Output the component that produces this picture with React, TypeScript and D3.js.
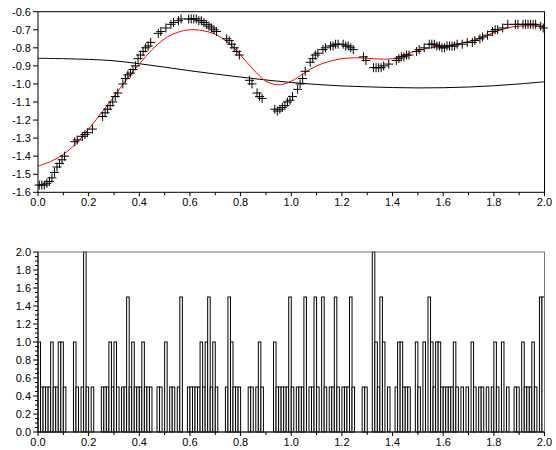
import React from 'react';
import * as d3 from 'd3';

// ---------- data ----------
// histogram densities for 200 bins of width 0.01 over [0, 2]
const histDensity = [
  1, 0.5, 0.5, 0.5, 0.5, 1, 0.5, 0.5, 1, 1,
  0.5, 0, 0, 0, 1, 0.5, 0, 0.5, 2, 0.5,
  0, 0.5, 0, 0, 0, 0.5, 0.5, 0.5, 1, 0.5,
  1, 0.5, 0, 0.5, 0.5, 1.5, 0.5, 1, 0.5, 0.5,
  0.5, 1, 0.5, 0.5, 0.5, 0, 0, 0.5, 0.5, 0,
  1, 0, 0.5, 0.5, 0, 0.5, 1.5, 0, 0, 0.5,
  0.5, 0.5, 0.5, 0.5, 1, 0.5, 1, 1.5, 0.5, 1,
  0.5, 0, 0, 0, 0.5, 1.5, 1, 0.5, 0.5, 0.5,
  0, 0, 0, 0.5, 0.5, 0, 0.5, 1, 0.5, 0,
  0, 0, 0, 1, 0.5, 0.5, 0.5, 0.5, 0.5, 1.5,
  0.5, 0, 0.5, 0.5, 0.5, 1.5, 0, 0.5, 0.5, 1.5,
  0.5, 0, 1.5, 0.5, 0, 0.5, 0.5, 1.5, 0.5, 0,
  0.5, 0.5, 0.5, 1.5, 0.5, 0, 0, 0, 0.5, 0.5,
  0, 0, 2, 1, 0.5, 1.5, 1, 0, 0.5, 0,
  0, 0.5, 1, 1, 0.5, 0.5, 0.5, 0, 0, 1,
  0.5, 0, 1, 0, 1.5, 1, 0.5, 1, 1, 0.5,
  0.5, 0.5, 0.5, 0.5, 1, 0.5, 0, 0.5, 0, 0.5,
  0, 1, 0.5, 0, 0.5, 0.5, 0, 0.5, 0, 0.5,
  1, 0.5, 0, 1, 0, 0.5, 0, 0, 0.5, 0.5,
  0, 1, 0.5, 0.5, 0.5, 1, 0.5, 0, 1.5, 1.5,
];

const pointsX = [
  0.005, 0.015, 0.025, 0.035, 0.045, 0.055, 0.065, 0.075, 0.085, 0.095, 0.105,
  0.145, 0.155, 0.175, 0.185, 0.195, 0.215,
  0.255, 0.265, 0.275, 0.285, 0.295, 0.305, 0.315, 0.335, 0.345, 0.355, 0.365, 0.375, 0.385, 0.395,
  0.405, 0.415, 0.425, 0.435, 0.445, 0.475, 0.485, 0.505, 0.525, 0.535, 0.555, 0.565,
  0.595, 0.605, 0.615, 0.625, 0.635, 0.645, 0.655, 0.665, 0.675, 0.685, 0.695, 0.705,
  0.745, 0.755, 0.765, 0.775, 0.785, 0.795, 0.835, 0.845, 0.865, 0.875, 0.885,
  0.935, 0.945, 0.955, 0.965, 0.975, 0.985, 0.995, 1.005, 1.025, 1.035, 1.045, 1.055,
  1.075, 1.085, 1.095, 1.105, 1.125, 1.135, 1.155, 1.165, 1.175, 1.185,
  1.205, 1.215, 1.225, 1.235, 1.245, 1.285, 1.295, 1.325, 1.335, 1.345, 1.355, 1.365, 1.385,
  1.415, 1.425, 1.435, 1.445, 1.455, 1.465, 1.495, 1.505, 1.525, 1.545, 1.555, 1.565, 1.575, 1.585, 1.595,
  1.605, 1.615, 1.625, 1.635, 1.645, 1.655, 1.675, 1.695, 1.715, 1.725, 1.745, 1.755, 1.775, 1.795,
  1.805, 1.815, 1.835, 1.855, 1.885, 1.895, 1.915, 1.925, 1.935, 1.945, 1.955, 1.965, 1.985, 1.995,
];
const pointsY = [
  -1.56, -1.56, -1.56, -1.55, -1.54, -1.52, -1.49, -1.46, -1.44, -1.42, -1.40,
  -1.32, -1.31, -1.29, -1.28, -1.27, -1.25,
  -1.18, -1.16, -1.14, -1.12, -1.10, -1.07, -1.05, -1.00, -0.97, -0.95, -0.94, -0.92, -0.90, -0.86,
  -0.84, -0.82, -0.80, -0.79, -0.77, -0.72, -0.71, -0.69, -0.67, -0.66, -0.65, -0.64,
  -0.64, -0.64, -0.64, -0.64, -0.65, -0.65, -0.66, -0.67, -0.68, -0.69, -0.70, -0.71,
  -0.75, -0.76, -0.78, -0.80, -0.82, -0.84, -0.98, -1.00, -1.05, -1.07, -1.08,
  -1.14, -1.15, -1.14, -1.13, -1.12, -1.10, -1.09, -1.07, -1.03, -1.00, -0.97, -0.93,
  -0.88, -0.86, -0.84, -0.83, -0.81, -0.80, -0.79, -0.79, -0.78, -0.78,
  -0.78, -0.79, -0.79, -0.80, -0.81, -0.85, -0.87, -0.91, -0.91, -0.91, -0.91, -0.90, -0.89,
  -0.87, -0.86, -0.85, -0.85, -0.84, -0.84, -0.82, -0.81, -0.80, -0.78, -0.78, -0.78, -0.79, -0.79, -0.80,
  -0.80, -0.79, -0.79, -0.79, -0.79, -0.78, -0.78, -0.77, -0.77, -0.76, -0.75, -0.74, -0.73, -0.71,
  -0.70, -0.70, -0.69, -0.67, -0.67, -0.67, -0.67, -0.67, -0.67, -0.67, -0.67, -0.67, -0.68, -0.69,
];

const redX = [
  0, 0.05, 0.1, 0.15, 0.2, 0.25, 0.3, 0.35, 0.4, 0.45, 0.5, 0.55, 0.6, 0.65, 0.7, 0.75, 0.8, 0.85, 0.9, 0.95,
  1.0, 1.05, 1.1, 1.15, 1.2, 1.25, 1.3, 1.35, 1.4, 1.45, 1.5, 1.55, 1.6, 1.65, 1.7, 1.75, 1.8, 1.85, 1.9, 1.95, 2.0,
];
const redY = [
  -1.455, -1.43, -1.39, -1.33, -1.25, -1.16, -1.07, -0.975, -0.89, -0.81, -0.75, -0.715, -0.70, -0.705, -0.725,
  -0.77, -0.84, -0.92, -0.985, -1.005, -0.985, -0.94, -0.90, -0.875, -0.86, -0.855, -0.858, -0.862, -0.86,
  -0.838, -0.815, -0.80, -0.79, -0.78, -0.765, -0.745, -0.715, -0.69, -0.68, -0.678, -0.682,
];

const blackX = [0, 0.1, 0.2, 0.3, 0.4, 0.5, 0.6, 0.7, 0.8, 0.9, 1.0, 1.1, 1.2, 1.3, 1.4, 1.5, 1.6, 1.7, 1.8, 1.9, 2.0];
const blackY = [
  -0.858, -0.86, -0.864, -0.872, -0.888, -0.907, -0.927, -0.945, -0.962, -0.978, -0.992,
  -1.003, -1.011, -1.016, -1.02, -1.022, -1.021, -1.017, -1.01, -1.0, -0.988,
];

const xTickLabels = ['0.0', '0.2', '0.4', '0.6', '0.8', '1.0', '1.2', '1.4', '1.6', '1.8', '2.0'];
const topYTickLabels = ['-0.6', '-0.7', '-0.8', '-0.9', '-1.0', '-1.1', '-1.2', '-1.3', '-1.4', '-1.5', '-1.6'];
const bottomYTickLabels = ['0.0', '0.2', '0.4', '0.6', '0.8', '1.0', '1.2', '1.4', '1.6', '1.8', '2.0'];

// ---------- layout ----------
const W = 556;
const H = 450;
const L = 38;
const R = 544.5;
const top1 = 11.7;
const bot1 = 192.3;
const top2 = 252;
const bot2 = 432;
const FONT = '"Liberation Sans", Arial, sans-serif';

export default function App() {
  const x = d3.scaleLinear().domain([0, 2]).range([L, R]);
  const y1 = d3.scaleLinear().domain([-1.6, -0.6]).range([bot1, top1]);
  const y2 = d3.scaleLinear().domain([0, 2]).range([bot2, top2]);

  const redLine = d3
    .line<number>()
    .x((_, i) => x(redX[i]))
    .y((d) => y1(d))
    .curve(d3.curveCatmullRom.alpha(0.5));
  const blackLine = d3
    .line<number>()
    .x((_, i) => x(blackX[i]))
    .y((d) => y1(d))
    .curve(d3.curveCatmullRom.alpha(0.5));

  const xMinor = d3.range(0, 2.0001, 0.1);
  const nBins = histDensity.length;
  const bw = 2 / nBins;

  const axisX = (yBase: number, key: string) => (
    <g key={key}>
      {xMinor.map((v, i) => (
        <line key={i} x1={x(v)} x2={x(v)} y1={yBase} y2={yBase + (i % 2 === 0 ? 4 : 3)} stroke="#000" />
      ))}
      {xTickLabels.map((t) => (
        <text key={t} x={x(+t)} y={yBase + 14} textAnchor="middle" fontSize={11} fontFamily={FONT}>
          {t}
        </text>
      ))}
    </g>
  );

  return (
    <svg width={W} height={H} style={{ position: 'absolute', left: 0, top: 0, background: '#fff' }}>
      <rect x={0} y={0} width={W} height={H} fill="#fff" />
      {/* ---------- top chart ---------- */}
      <g>
        <path d={blackLine(blackY) || ''} fill="none" stroke="#000" strokeWidth={1} />
        <path d={redLine(redY) || ''} fill="none" stroke="#ff0000" strokeWidth={1} />
        {pointsX.map((px, i) => {
          const cx = x(px);
          const cy = y1(pointsY[i]);
          return (
            <path
              key={i}
              d={`M${cx - 4.5},${cy}h9M${cx},${cy - 4.5}v9`}
              stroke="#000"
              strokeWidth={1}
              fill="none"
            />
          );
        })}
        <rect x={L} y={top1} width={R - L} height={bot1 - top1} fill="none" stroke="#000" strokeWidth={1} />
        {topYTickLabels.map((t) => (
          <g key={t}>
            <line x1={L - 5} x2={L} y1={y1(+t)} y2={y1(+t)} stroke="#000" />
            <text x={L - 7} y={y1(+t) + 4} textAnchor="end" fontSize={11} fontFamily={FONT}>
              {t}
            </text>
          </g>
        ))}
        {axisX(bot1, 'ax1')}
      </g>

      {/* ---------- bottom chart ---------- */}
      <g>
        {histDensity.map((d, i) =>
          d > 0 ? (
            <rect
              key={i}
              x={x(i * bw)}
              y={y2(d)}
              width={x(bw) - x(0)}
              height={y2(0) - y2(d)}
              fill="#fff"
              stroke="#000"
              strokeWidth={1}
            />
          ) : null
        )}
        <rect x={L} y={top2} width={R - L} height={bot2 - top2} fill="none" stroke="#777" strokeWidth={1} />
        <line x1={L} x2={R} y1={bot2} y2={bot2} stroke="#000" />
        <line x1={L} x2={L} y1={top2} y2={bot2} stroke="#000" />
        {d3.range(0, 2.0001, 0.05).map((v, i) => (
          <line key={i} x1={L - (i % 4 === 0 ? 5 : 3)} x2={L} y1={y2(v)} y2={y2(v)} stroke="#000" />
        ))}
        {bottomYTickLabels.map((t) => (
          <text key={t} x={L - 7} y={y2(+t) + 4} textAnchor="end" fontSize={11} fontFamily={FONT}>
            {t}
          </text>
        ))}
        {axisX(bot2, 'ax2')}
      </g>
    </svg>
  );
}
